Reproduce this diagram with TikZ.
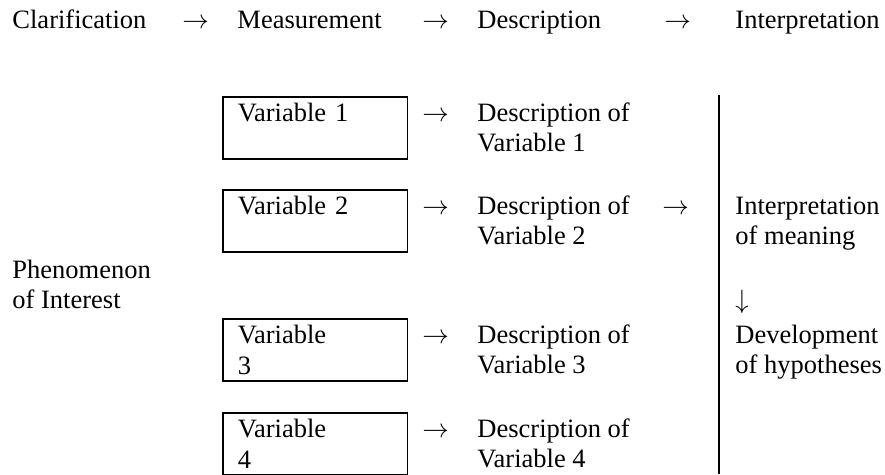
\documentclass[tikz,border=0pt]{standalone}
\usepackage{fontspec}
\setmainfont{Liberation Serif}

\tikzset{%
  % Specifications for style of nodes:
         txt/.style = {anchor=base west, inner sep=0pt, align=left, font=\fontsize{12}{13.8}\selectfont},
         varbox/.style = {draw=black, line width=0.8pt, anchor=north west, inner xsep=6.8pt, inner ysep=0pt, text width=70pt, align=left, text height=11.3pt, text depth=16.8pt, font=\fontsize{12}{13.8}\selectfont},
}

\begin{document}
\begin{tikzpicture}[x=0.4528pt, y=-0.4528pt]
    \useasboundingbox (0,0) rectangle (885,474);

    % Draw nodes (top row)
    \node (clar)    [txt] at (12,28)  {Clarification};
    \node (ar1)     [txt] at (182,28) {$\rightarrow$};
    \node (meas)    [txt] at (237,28) {Measurement};
    \node (ar2)     [txt] at (422,28) {$\rightarrow$};
    \node (descr)   [txt] at (477,28) {Description};
    \node (ar3)     [txt] at (664,28) {$\rightarrow$};
    \node (interp)  [txt] at (735,28) {Interpretation};

    % Draw nodes (variables)
    \node (var1)    [varbox] at (222,96)  {Variable 1};
    \node (var2)    [varbox] at (222,189) {Variable 2};
    \node (var3)    [varbox] at (222,318) {Variable\\3};
    \node (var4)    [varbox] at (222,412) {Variable\\4};

    % two-line texts sit on the baseline of their last line
    \node (phen)    [txt] at (12,308.5) {Phenomenon\\of Interest};

    % Draw arrows
    \node (va1)     [txt] at (422,121) {$\rightarrow$};
    \node (va2)     [txt] at (422,214) {$\rightarrow$};
    \node (va3)     [txt] at (422,343) {$\rightarrow$};
    \node (va4)     [txt] at (422,437) {$\rightarrow$};

    % Draw descriptions
    \node (desc1)   [txt] at (477,151.5) {Description of\\Variable 1};
    \node (desc2)   [txt] at (477,244.5) {Description of\\Variable 2};
    \node (desc3)   [txt] at (477,373.5) {Description of\\Variable 3};
    \node (desc4)   [txt] at (477,467.5) {Description of\\Variable 4};
    \node (da2)     [txt] at (662,214) {$\rightarrow$};

    % Draw interpretation column
    \coordinate (top) at (719,95);
    \coordinate (bot) at (719,474);
    \draw[line width=0.9pt] (top) -- (bot);
    \node (mean)    [txt] at (735,244.5) {Interpretation\\of meaning};
    \node (down)    [txt] at (735,308) {$\downarrow$};
    \node (hyp)     [txt] at (735,373.5) {Development\\of hypotheses};
\end{tikzpicture}
\end{document}
